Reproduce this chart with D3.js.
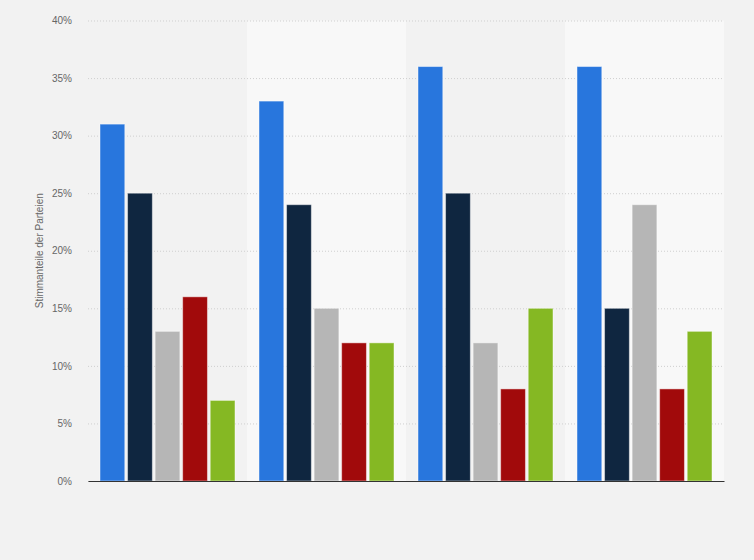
<!DOCTYPE html>
<html>
<head>
<meta charset="utf-8">
<script src="https://cdn.jsdelivr.net/npm/d3@7"></script>
<style>
  body { margin: 0; background: #f2f2f2; }
  svg { display: block; font-family: "Liberation Sans", Arial, sans-serif; }
</style>
</head>
<body>
<div id="chart"></div>
<script>
// groups have no visible labels in the picture
var groups = ["A", "B", "C", "D"];
var parties = ["p1", "p2", "p3", "p4", "p5"];
var partyColors = ["#2876dd", "#0f2640", "#b6b6b6", "#a10a0b", "#85b823"];
var shares = [
  [31, 25, 13, 16, 7],
  [33, 24, 15, 12, 12],
  [36, 25, 12, 8, 15],
  [36, 15, 24, 8, 13]
];
var yTicks = [0, 5, 10, 15, 20, 25, 30, 35, 40];

var svgWidth = 754;
var svgHeight = 560;
var margin = { top: 20.5, right: 30, bottom: 79, left: 88 };
var width = svgWidth - margin.left - margin.right;
var height = svgHeight - margin.top - margin.bottom;

var svg = d3.select("#chart")
  .append("svg")
  .attr("width", svgWidth)
  .attr("height", svgHeight);

svg.append("rect")
  .attr("width", svgWidth)
  .attr("height", svgHeight)
  .attr("fill", "#f2f2f2");

var chart_group = svg.append("g")
  .attr("transform", `translate(${margin.left}, ${margin.top})`);

var x0 = d3.scaleBand()
  .domain(groups)
  .range([0, width])
  .padding(0);

var x1 = d3.scaleBand()
  .domain(parties)
  .range([12, x0.bandwidth() - 12])
  .paddingInner(0.1);

var y = d3.scaleLinear()
  .domain([0, 40])
  .range([height, 0]);

// alternating column bands
chart_group.selectAll(".band")
  .data(groups)
  .enter()
  .append("rect")
  .attr("x", d => x0(d))
  .attr("y", 0)
  .attr("width", x0.bandwidth())
  .attr("height", height)
  .attr("fill", (d, i) => i % 2 ? "#f8f8f8" : "#f2f2f2");

// gridlines + tick labels
var leftAxis = d3.axisLeft(y)
  .tickValues(yTicks)
  .tickSize(-width)
  .tickPadding(16)
  .tickFormat(d => d + "%");

var yAxis = chart_group.append("g").call(leftAxis);
yAxis.select(".domain").remove();
yAxis.selectAll(".tick line")
  .attr("stroke", "#cfcfcf")
  .attr("stroke-dasharray", "1,2");
yAxis.selectAll(".tick text")
  .attr("fill", "#666")
  .attr("font-size", "10px");

// bars
var groupG = chart_group.selectAll(".grp")
  .data(shares)
  .enter()
  .append("g")
  .attr("transform", (d, i) => `translate(${x0(groups[i])}, 0)`);

groupG.selectAll("rect")
  .data(d => d)
  .enter()
  .append("rect")
  .attr("x", (d, i) => x1(parties[i]))
  .attr("y", d => y(d))
  .attr("width", x1.bandwidth())
  .attr("height", d => height - y(d))
  .attr("fill", (d, i) => partyColors[i])
  .attr("stroke", "rgba(255,255,255,0.45)")
  .attr("stroke-width", 1);

// baseline
chart_group.append("g")
  .attr("transform", `translate(0, ${height})`)
  .call(d3.axisBottom(x0).tickSize(0).tickFormat(""))
  .select(".domain")
  .attr("stroke", "#333")
  .attr("stroke-width", 1.2);

// y axis label
chart_group.append("text")
  .attr("transform", "rotate(-90)")
  .attr("x", 0 - (height / 2))
  .attr("y", 0 - margin.left + 43)
  .attr("text-anchor", "middle")
  .attr("fill", "#666")
  .attr("font-size", "10px")
  .text("Stimmanteile der Parteien");
</script>
</body>
</html>
